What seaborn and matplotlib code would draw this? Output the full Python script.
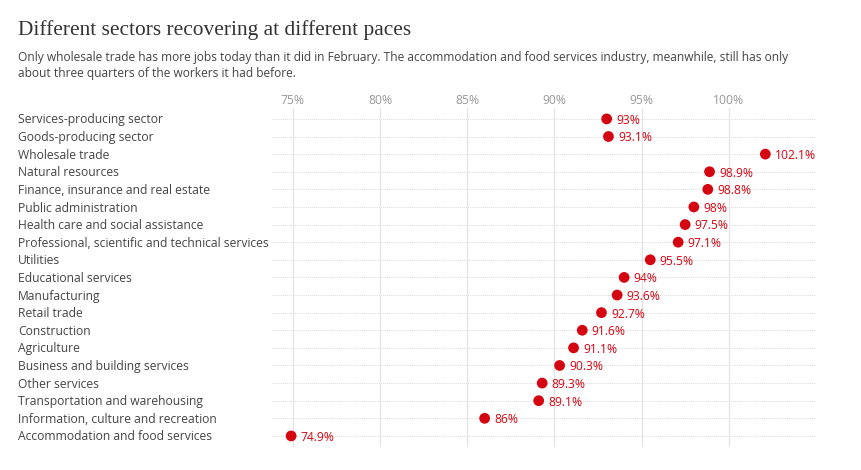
import pandas as pd
import matplotlib.pyplot as plt
import seaborn as sns

sectors = [
    "Services-producing sector", "Goods-producing sector", "Wholesale trade",
    "Natural resources", "Finance, insurance and real estate", "Public administration",
    "Health care and social assistance", "Professional, scientific and technical services",
    "Utilities", "Educational services", "Manufacturing", "Retail trade",
    "Construction", "Agriculture", "Business and building services", "Other services",
    "Transportation and warehousing", "Information, culture and recreation",
    "Accommodation and food services",
]
pct = [93, 93.1, 102.1, 98.9, 98.8, 98, 97.5, 97.1, 95.5, 94, 93.6, 92.7,
       91.6, 91.1, 90.3, 89.3, 89.1, 86, 74.9]
ticks = [75, 80, 85, 90, 95, 100]

df = pd.DataFrame({"sector": sectors, "pct": pct})
df["row"] = range(len(df))

sns.set_style("white")
plt.rcParams["font.family"] = ["Open Sans", "DejaVu Sans"]
red = "#d40511"

fig = plt.figure(figsize=(8.62, 4.70), dpi=100)
ax = fig.add_axes([0.3155, 0.050, 0.631, 0.7195])

for r in df["row"]:
    ax.axhline(r, color="#cccccc", lw=0.6, ls=(0, (1, 1.5)), zorder=0)
for t in ticks:
    ax.axvline(t, color="#e3e3e3", lw=0.9, zorder=0)

sns.scatterplot(data=df, x="pct", y="row", ax=ax, color=red, s=60,
                edgecolor="none", zorder=3, legend=False)
for _, d in df.iterrows():
    lab = f"{d.pct:g}%"
    ax.text(d.pct + 0.55, d.row + 0.08, lab, color=red, fontsize=8.7,
            va="center", ha="left")

ax.set_xlim(73.8, 105)
ax.set_ylim(18.6, -0.6)
ax.set_xticks(ticks)
ax.set_xticklabels([f"{t}%" for t in ticks])
ax.xaxis.tick_top()
ax.tick_params(axis="x", length=0, pad=1, labelsize=8.7, labelcolor="#999999")
ax.set_yticks([])
ax.set_xlabel("")
ax.set_ylabel("")
for s in ax.spines.values():
    s.set_visible(False)

for _, d in df.iterrows():
    ax.annotate(d.sector, xy=(18 / 862, 0), xycoords=("figure fraction", "data"),
                xytext=(0, d.row + 0.06), textcoords=("offset points", "data"),
                fontsize=8.7, color="#444444", va="center", ha="left")

fig.text(18 / 862, 1 - 30 / 470, "Different sectors recovering at different paces",
         fontsize=15.4, color="#333333", va="center", ha="left",
         family=["Liberation Serif", "DejaVu Serif"])
fig.text(18 / 862, 1 - 66 / 470,
         "Only wholesale trade has more jobs today than it did in February. The accommodation and food services industry, meanwhile, still has only\n"
         "about three quarters of the workers it had before.",
         fontsize=8.65, color="#444444", va="center", ha="left", linespacing=1.3)

fig.savefig("out.png", dpi=100)
